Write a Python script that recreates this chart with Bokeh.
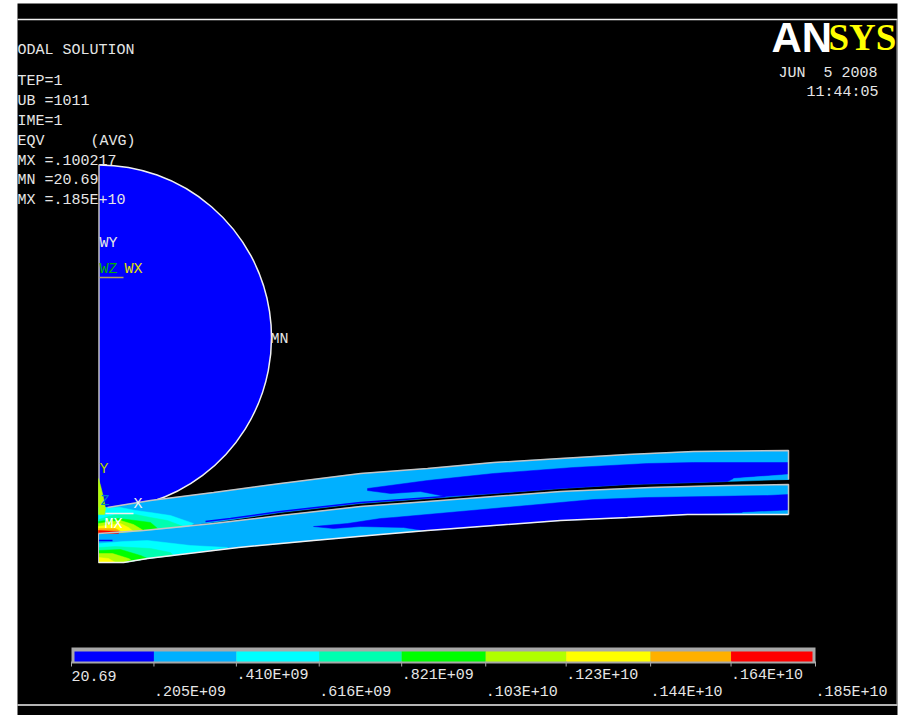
from bokeh.plotting import figure
from bokeh.models import Range1d
from bokeh.core.properties import value
from bokeh.embed import file_html
from bokeh.resources import INLINE

# ---- colour bar ----
levels = [20.69, .205e9, .410e9, .616e9, .821e9, 1.03e9, 1.23e9, 1.44e9, 1.64e9, 1.85e9]
level_labels = ["20.69", ".205E+09", ".410E+09", ".616E+09", ".821E+09",
                ".103E+10", ".123E+10", ".144E+10", ".164E+10", ".185E+10"]
BLUE, LBLUE, CYAN, MINT, GREEN, YGREEN, YELLOW, ORANGE, RED = (
    "#0000FF", "#00B0FF", "#00FFFF", "#00FFB0", "#00FF00", "#B0FF00", "#FFFF00", "#FFB000", "#FF0000")
band_colors = [BLUE, LBLUE, CYAN, MINT, GREEN, YGREEN, YELLOW, ORANGE, RED]

# ---- model outlines ----
upper_top_x = [98, 107, 150, 213, 280, 360, 427, 493, 560, 627, 693, 788]
upper_top_y = [507, 507, 500, 492, 483, 473, 468, 462, 458, 454, 451, 450]
upper_bot_x = [98, 143, 213, 280, 360, 443, 493, 560, 627, 727, 788]
upper_bot_y = [533, 530, 522, 512, 503, 497, 493, 488, 484, 481, 479]
lower_top_x = [98, 143, 213, 280, 360, 427, 493, 560, 650, 727, 788]
lower_top_y = [533, 530, 523, 515, 506, 501, 496, 491, 487, 485, 484]
lower_bot_x = [98, 123, 147, 238, 313, 380, 427, 493, 560, 627, 687, 788]
lower_bot_y = [562, 562, 558, 547, 540, 534, 530, 525, 520, 517, 514, 514]

upper_blue_x = [367, 427, 493, 573, 647, 693, 788, 788, 733, 727, 627, 560, 493, 445, 420, 390, 367]
upper_blue_y = [488, 480, 473, 467, 463, 462, 462, 474, 478, 481, 484, 488, 493, 496, 491, 493, 490]
upper_sliver_x = [788, 733, 788]
upper_sliver_y = [474, 478, 479]
lower_blue_x = [313, 347, 380, 393, 460, 527, 593, 647, 767, 788, 788, 742, 687, 627, 560, 493, 447, 423, 403, 360, 333]
lower_blue_y = [526, 523, 518, 517, 511, 505, 499, 497, 495, 494, 510, 512, 514, 517, 520, 525, 529, 530, 527, 526, 528]
lower_sliver_x = [742, 788, 788]
lower_sliver_y = [512, 510, 514]
contact_blue_x = [205, 230, 280, 360, 445]
contact_blue_y = [521, 518, 511, 502, 496]

# contours near the contact, upper layer
u_cyan_x = [98, 120, 135, 150, 170, 193, 188, 143, 98]
u_cyan_y = [507, 507, 510, 512, 515, 523, 526, 530, 533]
u_mint_x = [98, 115, 135, 150, 167, 183, 143, 98]
u_mint_y = [519, 514, 514, 517, 520, 526, 530, 533]
u_green_x = [98, 118, 135, 150, 157, 143, 98]
u_green_y = [521, 518, 520, 522, 528, 530, 533]
u_ygreen_x = [98, 120, 133, 143, 98]
u_ygreen_y = [523, 520, 524, 530, 533]
u_yellow_x = [98, 120, 128, 133, 98]
u_yellow_y = [526, 523, 527, 531, 533]
u_orange_x = [98, 115, 122, 98]
u_orange_y = [528, 528, 532, 533]
u_red_x = [98, 118, 118, 98]
u_red_y = [530, 531, 533, 533]

# contours, lower layer
l_cyan_x = [98, 123, 147, 190, 227, 147, 123, 98]
l_cyan_y = [543, 541, 540, 545, 547, 558, 562, 562]
l_mint_x = [98, 115, 150, 170, 173, 147, 123, 98]
l_mint_y = [547, 546, 548, 552, 555, 558, 562, 562]
l_green_x = [98, 120, 140, 147, 123, 98]
l_green_y = [550, 549, 555, 558, 562, 562]
l_ygreen_x = [98, 112, 128, 130, 123, 98]
l_ygreen_y = [553, 553, 558, 559, 562, 562]
l_yellow_x = [98, 108, 115, 98]
l_yellow_y = [557, 558, 562, 562]
l_dash_x = [98, 112]
l_dash_y = [540, 540]

# contact stress on the cylinder, near the symmetry line
cyl_x = [98, 100, 103, 105, 104, 98]
cyl_y = [478, 485, 497, 508, 514, 514]

# ---- texts ----
info_lines = ["ODAL SOLUTION", "TEP=1", "UB =1011", "IME=1", "EQV",
              "MX =.100217", "MN =20.69", "MX =.185E+10"]
info_y = [50, 81, 101, 121, 141, 161, 180, 200]

TXT = "#E6E6E6"
GREY = "#C4C4C4"

p = figure(width=899, height=715, x_range=Range1d(0, 899), y_range=Range1d(715, 0),
           output_backend="svg", toolbar_location=None, min_border=0,
           background_fill_color="white", border_fill_color="white", outline_line_color=None)
p.axis.visible = False
p.grid.visible = False

bar_x0, bar_x1 = 71, 815
span = levels[-1] / (bar_x1 - bar_x0)
p.extra_x_ranges = {"bar": Range1d((0 - bar_x0) * span, (899 - bar_x0) * span)}


def poly(xs, ys, color):
    p.patch(xs, ys, fill_color=color, line_color=color, line_width=0.5)


def label(x, y, s, color=TXT, size=15, font="Liberation Mono", style="normal", range_name="default", align="left"):
    p.text([x], [y], text=[s], text_color=color, text_font=value(font), text_font_size=f"{size}px",
           text_font_style=style, text_align=align, text_baseline="middle", x_range_name=range_name)


# background and frame
p.quad(left=[17], right=[897], top=[3], bottom=[715], fill_color="black", line_color=None)
p.line([17, 897], [19, 19], line_color="#F0F0F0", line_width=1.5)
p.line([17, 897], [704.5, 704.5], line_color="#F0F0F0", line_width=1.5)
p.line([896.5, 896.5], [19, 704], line_color="#B0B0B0", line_width=1)

# cylinder
p.wedge(x=[98.5], y=[337], radius=172.5, start_angle=-1.5708, end_angle=1.5708,
        fill_color=BLUE, line_color=None)
p.arc(x=[98.5], y=[337], radius=172.5, start_angle=-1.27, end_angle=1.5708,
      line_color="#F0F0F0", line_width=1.5)
p.line([98.5, 98.5], [164, 507], line_color=GREY, line_width=1.5)

# upper and lower layers
poly(upper_top_x + upper_bot_x[::-1], upper_top_y + upper_bot_y[::-1], LBLUE)
poly(lower_top_x + lower_bot_x[::-1], lower_top_y + lower_bot_y[::-1], LBLUE)
poly(upper_blue_x, upper_blue_y, BLUE)
poly(upper_sliver_x, upper_sliver_y, LBLUE)
poly(lower_blue_x, lower_blue_y, BLUE)
poly(lower_sliver_x, lower_sliver_y, LBLUE)
p.line(contact_blue_x, contact_blue_y, line_color=BLUE, line_width=1.5)
for xs, ys, c in [(u_cyan_x, u_cyan_y, CYAN), (u_mint_x, u_mint_y, MINT), (u_green_x, u_green_y, GREEN),
                  (u_ygreen_x, u_ygreen_y, YGREEN), (u_yellow_x, u_yellow_y, YELLOW),
                  (u_orange_x, u_orange_y, ORANGE), (u_red_x, u_red_y, RED),
                  (l_cyan_x, l_cyan_y, CYAN), (l_mint_x, l_mint_y, MINT), (l_green_x, l_green_y, GREEN),
                  (l_ygreen_x, l_ygreen_y, YGREEN), (l_yellow_x, l_yellow_y, YELLOW)]:
    poly(xs, ys, c)
poly(cyl_x, cyl_y, YGREEN)
p.line(l_dash_x, l_dash_y, line_color=BLUE, line_width=1.5)

# surface outlines
p.line(upper_top_x[1:] + [788], upper_top_y[1:] + [479], line_color=GREY, line_width=1.5)
p.line(lower_top_x + [788], lower_top_y + [514], line_color=GREY, line_width=1.5)
p.line(lower_bot_x, lower_bot_y, line_color="#F0F0F0", line_width=1.5)
p.line([98, 98], [533, 562], line_color=GREY, line_width=1)

# colour bar
p.quad(left=[levels[0]], right=[levels[-1]], top=[647], bottom=[663], fill_color="#A8A8A8", line_color=None,
       x_range_name="bar")
p.quad(left=[levels[0] + 3 * span] + levels[1:-1], right=levels[1:-1] + [levels[-1] - 3 * span],
       top=[651] * 9, bottom=[661] * 9, fill_color=band_colors, line_color=None, x_range_name="bar")
p.segment(x0=levels, x1=levels, y0=[661] * 10, y1=[666] * 10, line_color="#A8A8A8", line_width=1,
          x_range_name="bar")
for i, (v, s) in enumerate(zip(levels, level_labels)):
    label(v, 675 if i % 2 == 0 else 692, s, range_name="bar")

# info block
for s, y in zip(info_lines, info_y):
    label(17, y, s)
label(90, 141, "(AVG)")
label(778, 73, "JUN")
label(823, 73, "5 2008")
label(806, 92, "11:44:05")

# logo
label(771, 37, "AN", color="white", size=42, font="Liberation Sans", style="bold")
label(828, 37, "SYS", color="#FFFF00", size=37, font="Liberation Serif", style="bold")

# model labels
label(99, 243, "WY")
label(99, 269, "WZ", color="#00B000")
label(124, 269, "WX", color="#E0E000")
p.line([99, 123], [277, 277], line_color="#B0A060", line_width=1.5)
label(270, 339, "MN")
label(99, 469, "Y", color="#B0D000")
label(100, 501, "Z", color="#0080C0")
label(133, 504, "X", color="#F0F0F0")
p.line([105, 133], [513, 513], line_color="#F0F0F0", line_width=1.5)
label(104, 524, "MX", color="#FFFFFF")

open("out.html", "w").write(file_html(p, INLINE))
